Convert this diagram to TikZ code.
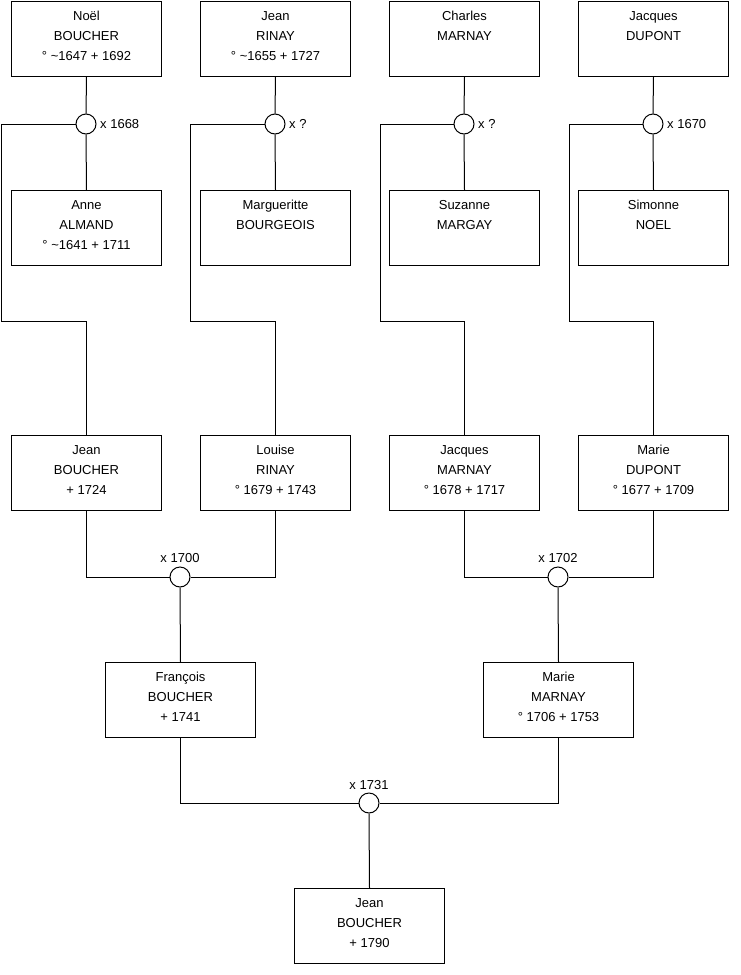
\documentclass[tikz,border=0pt]{standalone}
\usepackage{fontspec}
\setmainfont{Liberation Sans}
\begin{document}
\begin{tikzpicture}[x=1pt,y=-1pt,
  person/.style={draw, line width=1pt, rectangle, inner sep=0pt, minimum width=150pt, minimum height=75pt, anchor=north west, font=\fontsize{13}{20}\selectfont},
  union/.style={draw, line width=1pt, circle, fill=white, inner sep=0pt, minimum size=20pt},
  ulabel/.style={inner sep=0pt, font=\fontsize{13}{16}\selectfont},
  link/.style={line width=1pt}]
\newcommand\ptxt[1]{\parbox[t][75pt][t]{150pt}{\centering\rule{0pt}{18.5pt}#1}}
\useasboundingbox (0,0) rectangle (740,975);
% generation 1
\node[person] (noel) at (11,1) {\ptxt{Noël\\BOUCHER\\° \textasciitilde1647 + 1692}};
\node[person] (jeanr) at (200,1) {\ptxt{Jean\\RINAY\\° \textasciitilde1655 + 1727}};
\node[person] (charles) at (389,1) {\ptxt{Charles\\MARNAY}};
\node[person] (jacquesd) at (578,1) {\ptxt{Jacques\\DUPONT}};
\node[person] (anne) at (11,190) {\ptxt{Anne\\ALMAND\\° \textasciitilde1641 + 1711}};
\node[person] (marg) at (200,190) {\ptxt{Margueritte\\BOURGEOIS}};
\node[person] (suz) at (389,190) {\ptxt{Suzanne\\MARGAY}};
\node[person] (sim) at (578,190) {\ptxt{Simonne\\NOEL}};
% generation 2
\node[person] (jeanb) at (11,435) {\ptxt{Jean\\BOUCHER\\+ 1724}};
\node[person] (louise) at (200,435) {\ptxt{Louise\\RINAY\\° 1679 + 1743}};
\node[person] (jacquesm) at (389,435) {\ptxt{Jacques\\MARNAY\\° 1678 + 1717}};
\node[person] (maried) at (578,435) {\ptxt{Marie\\DUPONT\\° 1677 + 1709}};
% generation 3
\node[person] (francois) at (105,662) {\ptxt{François\\BOUCHER\\+ 1741}};
\node[person] (mariem) at (483,662) {\ptxt{Marie\\MARNAY\\° 1706 + 1753}};
% generation 4
\node[person] (jeanf) at (294,888) {\ptxt{Jean\\BOUCHER\\+ 1790}};
% unions
\node[union] (u1) at (86,124) {};
\node[union] (u2) at (275,124) {};
\node[union] (u3) at (464,124) {};
\node[union] (u4) at (653,124) {};
\node[union] (u5) at (180,577) {};
\node[union] (u6) at (558,577) {};
\node[union] (u7) at (369,803) {};
\node[ulabel, anchor=west] (l1) at (100,124) {x 1668};
\node[ulabel, anchor=west] (l2) at (289,124) {x ?};
\node[ulabel, anchor=west] (l3) at (478,124) {x ?};
\node[ulabel, anchor=west] (l4) at (667,124) {x 1670};
\node[ulabel] (l5) at (180,558) {x 1700};
\node[ulabel] (l6) at (558,558) {x 1702};
\node[ulabel] (l7) at (369,785) {x 1731};
% turn points
\coordinate (t1) at (1.5,321);
\coordinate (t2) at (190,321);
\coordinate (t3) at (380,321);
\coordinate (t4) at (569,321);
% connectors, generation 1
\foreach \h/\u/\w in {noel/u1/anne, jeanr/u2/marg, charles/u3/suz, jacquesd/u4/sim}{
  \draw[link] (\h.south) -- (\u.north);
  \draw[link] (\u.south) -- (\w.north);
}
\draw[link] (u1.west) -| (t1) -| (jeanb.north);
\draw[link] (u2.west) -| (t2) -| (louise.north);
\draw[link] (u3.west) -| (t3) -| (jacquesm.north);
\draw[link] (u4.west) -| (t4) -| (maried.north);
% generation 2
\draw[link] (jeanb.south) |- (u5.west);
\draw[link] (louise.south) |- (u5.east);
\draw[link] (u5.south) -- (francois.north);
\draw[link] (jacquesm.south) |- (u6.west);
\draw[link] (maried.south) |- (u6.east);
\draw[link] (u6.south) -- (mariem.north);
% generation 3
\draw[link] (francois.south) |- (u7.west);
\draw[link] (mariem.south) |- (u7.east);
\draw[link] (u7.south) -- (jeanf.north);
\end{tikzpicture}
\end{document}
